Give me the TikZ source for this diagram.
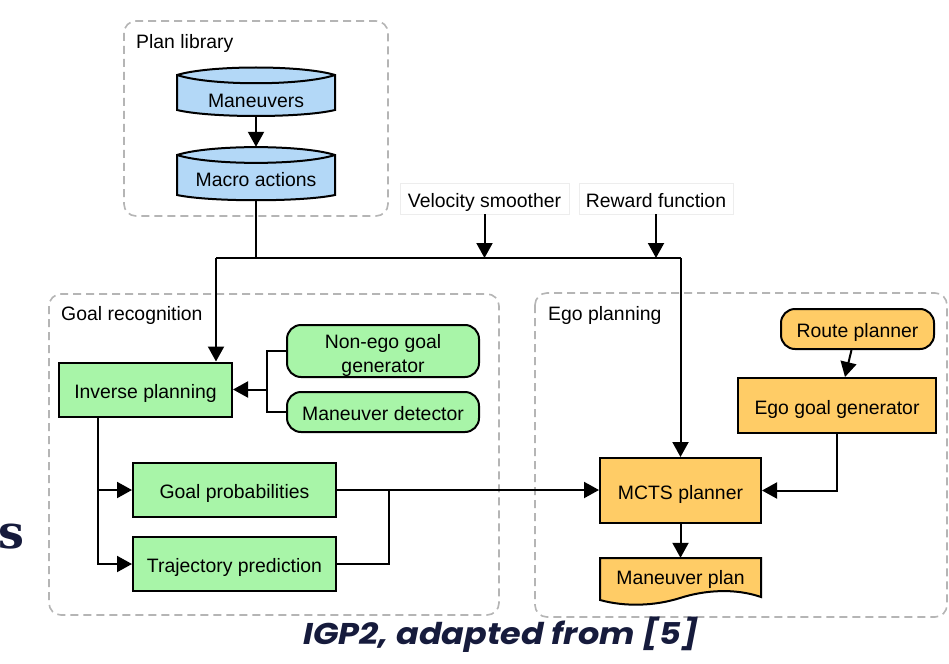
\documentclass[tikz,border=0pt]{standalone}
\usepackage{fontspec}
\setmainfont{Liberation Sans}
\newfontfamily\capfont{Poppins}
\newfontfamily\bigserif{DejaVu Serif}
\usetikzlibrary{arrows.meta,calc}

\definecolor{drumblue}{HTML}{B3D8F7}
\definecolor{boxgreen}{HTML}{A8F5A8}
\definecolor{boxorange}{HTML}{FFCC66}
\definecolor{grpgray}{HTML}{B5B5B5}
\definecolor{navy}{HTML}{161B3C}
\definecolor{faint}{HTML}{EDEDED}

\begin{document}
\begin{tikzpicture}[x=1pt,y=-1pt,
  txt/.style={font=\fontsize{19.4}{24}\selectfont, inner sep=0pt},
  oneline/.style={txt, text height=17.7pt, text depth=0pt},
  group/.style={draw=grpgray, line width=1.6pt, dash pattern=on 8pt off 5pt, rounded corners=12pt},
  grouplabel/.style={oneline, anchor=west},
  proc/.style={oneline, draw=black, line width=2pt, align=center},
  shapeline/.style={draw=black, line width=2pt},
  hint/.style={oneline, draw=faint, line width=0.8pt},
  link/.style={line width=2pt},
  flow/.style={line width=2pt, -{Triangle[length=15pt,width=16pt]}}]

\useasboundingbox (0,0) rectangle (949,663);
\fill[white] (0,0) rectangle (949,663);

% ---- dashed groups
\draw[group] (124,21) rectangle (388,216);
\node[grouplabel] (lblPlan) at (136,40) {Plan library};
\draw[group] (49,294) rectangle (499,615);
\node[grouplabel] (lblGoal) at (61,312) {Goal recognition};
\draw[group] (535,293) rectangle (947,617);
\node[grouplabel] (lblEgo) at (548,312) {Ego planning};

% ---- plan library drums
\filldraw[shapeline, fill=drumblue] (177,75) .. controls (210,65) and (302,65) .. (335,75)
  -- (335,110) .. controls (302,118) and (210,118) .. (177,110) -- cycle;
\draw[shapeline] (177,75) .. controls (210,86) and (302,86) .. (335,75);
\node[inner sep=0pt, minimum width=158pt, minimum height=49pt] (man) at (256,91) {};
\node[oneline] (manT) at (256,99) {Maneuvers};

\filldraw[shapeline, fill=drumblue] (177,155) .. controls (210,144.5) and (302,144.5) .. (335,155)
  -- (335,195) .. controls (302,202) and (210,202) .. (177,195) -- cycle;
\draw[shapeline] (177,155) .. controls (210,165.5) and (302,165.5) .. (335,155);
\node[inner sep=0pt, minimum width=158pt, minimum height=53pt] (mac) at (256,173.5) {};
\node[oneline] (macT) at (256,178) {Macro actions};

% ---- external inputs
\node[hint, minimum width=169pt, minimum height=31pt] (vs) at (484.5,198.5) {Velocity smoother};
\node[hint, minimum width=154pt, minimum height=31pt] (rf) at (656,198.5) {Reward function};

% ---- goal recognition
\node[proc, fill=boxgreen, minimum width=173pt, minimum height=54pt] (inv) at (145.5,389.5) {Inverse planning};
\node[draw=black, line width=2pt, fill=boxgreen, rounded corners=14pt, inner sep=0pt,
      minimum width=192pt, minimum height=52pt] (neg) at (383,351) {};
\node[txt, align=center] (negT) at (383,355) {Non-ego goal\\generator};
\node[proc, fill=boxgreen, rounded corners=14pt, minimum width=192pt, minimum height=40pt] (det) at (383,412) {Maneuver detector};
\node[proc, fill=boxgreen, minimum width=203pt, minimum height=54pt] (gp) at (234.5,490) {Goal probabilities};
\node[proc, fill=boxgreen, minimum width=203pt, minimum height=54pt] (tp) at (234.5,564) {Trajectory prediction};

% ---- ego planning
\node[proc, fill=boxorange, rounded corners=14pt, minimum width=153pt, minimum height=40pt] (route) at (857.5,329) {Route planner};
\node[proc, fill=boxorange, minimum width=198pt, minimum height=55pt] (ego) at (837,405.5) {Ego goal generator};
\node[proc, fill=boxorange, minimum width=161pt, minimum height=65pt] (mcts) at (680.5,490.5) {MCTS planner};

\filldraw[shapeline, fill=boxorange] (600,558) -- (761,558) -- (761,597)
  .. controls (735,588) and (705,590) .. (680,598)
  .. controls (655,606) and (625,607) .. (600,600) -- cycle;
\node[inner sep=0pt, minimum width=161pt, minimum height=42pt] (plan) at (680.5,579) {};
\node[oneline] (planT) at (680.5,576) {Maneuver plan};

% ---- connectors
\draw[flow] (man.south) -- (mac.north);

\coordinate (jL) at (216,258);
\coordinate (jR) at (mcts.north |- jL);
\draw[link] (mac.south) -- (mac.south |- jL);
\draw[link] (jL) -- (jR);
\draw[flow] (vs.south) -- (vs.south |- jL);
\draw[flow] (rf.south) -- (rf.south |- jL);
\draw[flow] (jL) -- (jL |- inv.north);
\draw[flow] (jR) -- (mcts.north);

\coordinate (jG) at ($(inv.east)+(34,0)$);
\draw[link] (neg.west) -| (jG) |- (det.west);
\draw[flow] (jG) -- (inv.east);

\coordinate (jI) at ($(inv.south west)+(40,0)$);
\draw[flow] (jI) |- (tp.west);
\draw[flow] (jI |- gp.west) -- (gp.west);

\draw[flow] (gp.east) -- (gp.east -| mcts.west);
\draw[link] (tp.east) -| ($(gp.east)+(52,0)$);

\draw[flow] ($(route.south)+(-6,0)$) -- ($(ego.north)+(8,0)$);
\draw[flow] (ego.south) |- (mcts.east);
\draw[flow] (mcts.south) -- (plan.north);

% ---- caption and slide text at the edge
\node[font=\capfont\bfseries\itshape\fontsize{30}{32}\selectfont, text=navy, inner sep=0pt] (cap) at (501,635) {\scalebox{1.115}[1]{IGP2, adapted from [5]}};
\node[anchor=east, font=\bigserif\bfseries\fontsize{46}{46}\selectfont, text=navy, inner sep=0pt] (edge) at (25,537) {s};
\end{tikzpicture}
\end{document}
